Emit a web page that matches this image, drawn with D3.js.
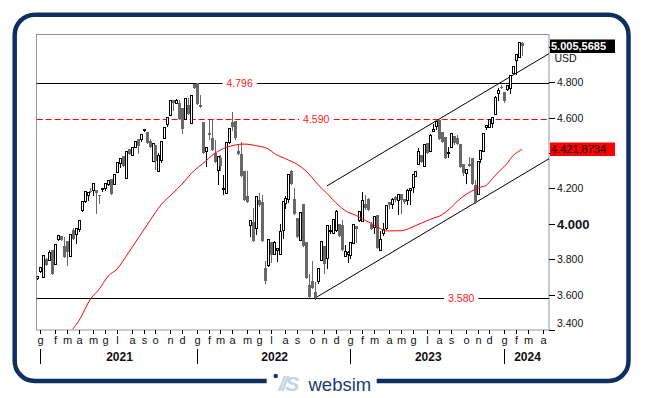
<!DOCTYPE html>
<html><head><meta charset="utf-8">
<script src="https://cdn.jsdelivr.net/npm/d3@7"></script>
<style>html,body{margin:0;padding:0;background:#fff;}svg{display:block;}</style>
</head><body>
<svg id="chart" width="645" height="398"></svg>
<script>
// Weekly candles, first week ends 25 Dec 2020, last week ends 16 Feb 2024
const open = [3695,3735,3700,3799,3798,3855,3774,3915,3932,3877,3901,3821,3968,3941,3971,4078,4128,4163,4188,4192,
4189,4163,4197,4202,4226,4255,4224,4291,4344,4385,4259,4422,4387,4432,4479,4479,4529,4520,4469,4358,
4443,4300,4361,4486,4567,4614,4702,4683,4682,4656,4592,4669,4568,4791,4797,4670,4577,4410,4516,4484,
4401,4305,4374,4201,4173,4461,4575,4583,4413,4392,4296,4155,3991,4009,3974,4132,4121,3750,3765,3900,
3831,3855,3831,3967,4119,4140,4297,4138,4031,3909,4110,3900,3655,3679,3612,3678,3798,3872,3807,3957,
3950,3964,3999,3991,3818,3829,3825,3893,3990,4020,4018,4111,4138,3997,3982,4048,3855,3951,3977,4124,
4110,4151,4137,4167,4138,4136,4193,4206,4273,4338,4389,4328,4455,4410,4522,4555,4589,4518,4490,4400,
4433,4497,4487,4454,4337,4289,4336,4373,4217,4167,4365,4412,4547,4550,4569,4622,4740,4774,4743,4764,
4766,4851,4928,4943,5022];
const high = [3703,3756,3825,3809,3853,3855,3887,3935,3932,3925,3901,3943,3974,3975,4020,4129,4185,4180,4201,4233,
4189,4163,4204,4230,4247,4255,4281,4352,4370,4385,4412,4422,4437,4468,4479,4509,4537,4520,4481,4455,
4443,4399,4471,4550,4605,4698,4702,4705,4702,4656,4712,4709,4726,4793,4797,4726,4577,4432,4589,4587,
4475,4385,4387,4278,4463,4543,4632,4583,4446,4463,4296,4300,4024,4088,4158,4177,4161,3790,3912,3900,
3902,3863,3999,4130,4155,4280,4305,4200,4031,4067,4110,3900,3719,3791,3669,3753,3901,3872,3993,3992,
4028,4080,3999,4019,3878,3849,3895,3999,3990,4071,4180,4164,4147,4012,4046,4048,3960,4002,4109,4124,
4146,4155,4169,4167,4138,4198,4205,4282,4299,4426,4389,4450,4455,4510,4565,4582,4589,4518,4490,4436,
4516,4497,4505,4454,4337,4309,4377,4373,4248,4358,4415,4514,4559,4595,4604,4720,4768,4783,4743,4784,
4840,4894,4959,5027,5030];
const low = [3687,3727,3700,3768,3798,3714,3774,3909,3907,3811,3768,3821,3913,3889,3959,4073,4125,4135,4181,4165,
4063,4116,4188,4193,4220,4166,4224,4291,4320,4327,4259,4395,4387,4432,4400,4470,4523,4459,4433,4354,
4308,4300,4351,4486,4551,4614,4646,4683,4595,4513,4592,4621,4568,4766,4677,4659,4398,4327,4478,4419,
4349,4226,4306,4171,4173,4456,4530,4481,4393,4272,4132,4123,3930,3901,3941,4101,3901,3667,3760,3785,
3831,3790,3831,3921,4091,4122,4228,4058,3924,3909,3873,3693,3586,3640,3577,3666,3798,3720,3749,3947,
3950,3958,3933,3852,3818,3783,3808,3893,3899,4016,4018,4082,4079,3970,3951,3862,3855,3937,3971,4091,
4092,4130,4056,4061,4119,4110,4115,4180,4268,4338,4348,4328,4399,4410,4522,4537,4478,4464,4370,4376,
4433,4451,4450,4320,4274,4229,4328,4224,4117,4167,4347,4412,4538,4550,4549,4622,4698,4770,4689,4757,
4739,4851,4846,4943,4953];
const close = [3703,3756,3825,3768,3841,3714,3887,3935,3907,3811,3842,3943,3913,3975,4020,4129,4185,4180,4181,4233,
4174,4156,4204,4230,4247,4166,4281,4352,4370,4327,4412,4395,4437,4468,4442,4509,4535,4459,4433,4455,
4357,4391,4471,4545,4605,4698,4683,4698,4595,4538,4712,4621,4726,4766,4677,4663,4398,4432,4501,4419,
4349,4385,4329,4204,4463,4543,4546,4488,4393,4272,4132,4123,4024,3901,4158,4109,3901,3675,3912,3825,
3899,3863,3962,4130,4145,4280,4228,4058,3924,4067,3873,3693,3586,3640,3583,3753,3901,3771,3993,3965,
4026,4072,3934,3852,3845,3840,3895,3999,3973,4071,4136,4090,4079,3970,4046,3862,3917,3971,4109,4105,
4138,4134,4169,4136,4124,4192,4205,4282,4299,4410,4348,4450,4399,4505,4536,4582,4478,4464,4370,4406,
4516,4457,4450,4320,4288,4309,4328,4224,4117,4358,4415,4514,4559,4595,4604,4719,4755,4770,4697,4784,
4840,4891,4959,5027,5005.5685];

// Moving average (week index, value)
const maWeek  = [12,14,18,21,24,27,31,38,42,46,49,53,56,60,64,67,70,74,78,81,84,88,91,95,98,101,105,108,109,113,116,118,123,125,128,130,134,136,140,142,144,147,150,152,154,157,159,161,163,164];
const maValue = [3405,3450,3575,3632,3705,3745,3840,4015,4110,4175,4225,4300,4340,4398,4432,4446,4451,4442,4425,4390,4368,4336,4298,4222,4173,4120,4067,4047,4037,4003,3974,3960,3961,3968,3990,4004,4032,4043,4092,4125,4153,4185,4207,4218,4255,4308,4340,4385,4410,4421.8734];

const levelValues = [4796, 4590, 3580];
const channelUpper = [[98, 4214], [173.2, 4962]];
const channelLower = [[94, 3580], [173.2, 4368]];
const yTickValues = [3400,3600,3800,4000,4200,4400,4600,4800,5000];
const yLabelValues = [3400,3600,3800,4000,4200,4600,4800];
const monthLetters = ["g","f","m","a","m","g","l","a","s","o","n","d"];
const currency = "USD";

const FONT = "'Liberation Sans', Arial, sans-serif";
const svg = d3.select("#chart");
const P = {l: 36.7, r: 549, t: 35, b: 330};

const weekEnds = d3.timeFriday.range(new Date(2020,11,25), new Date(2024,3,13));
const x = d3.scaleLinear().domain([-0.2, 173.2]).range([P.l, P.r]);
const y = d3.scaleLinear().domain([3400, 5067.4]).range([P.b, P.t]);

const loc = d3.formatLocale({decimal: ",", thousands: ".", grouping: [3], currency: ["", ""]});
const fInt = loc.format(",d");
const fDec = loc.format(",.4f");

svg.append("rect").attr("width", 645).attr("height", 398).attr("fill", "#fff");

// frame
const L = 14.7, T = 14.7, R = 628.5, B = 381, r = 20;
svg.append("path")
  .attr("d", `M376.7 ${B} H${R-r} A${r} ${r} 0 0 0 ${R} ${B-r} V${T+r} A${r} ${r} 0 0 0 ${R-r} ${T} H${L+r} A${r} ${r} 0 0 0 ${L} ${T+r} V${B-r} A${r} ${r} 0 0 0 ${L+r} ${B} H266.7`)
  .attr("fill", "none").attr("stroke", "#0f2f5f").attr("stroke-width", 4.5);

// logo
svg.append("circle").attr("cx", 275.7).attr("cy", 376).attr("r", 2.3).attr("fill", "#1c3c6e");
svg.append("text").attr("x", 278.5).attr("y", 391).attr("font-family", FONT).attr("font-size", 21)
  .attr("font-weight", "bold").attr("font-style", "italic").attr("letter-spacing", -2.5)
  .attr("fill", "#c8d3e1").text("//S");
svg.append("text").attr("x", 308.5).attr("y", 391).attr("font-family", FONT).attr("font-size", 18.5)
  .attr("fill", "#1c3c6e").text("websim");

// clip
svg.append("clipPath").attr("id", "plotclip").append("rect")
  .attr("x", P.l).attr("y", P.t).attr("width", P.r - P.l).attr("height", P.b - P.t);

// plot border
svg.append("rect").attr("x", 36.5).attr("y", 34.5).attr("width", 512.5).attr("height", 295.5)
  .attr("fill", "none").attr("stroke", "#9393a3");

// horizontal levels
const levelStyle = [
  {stroke: "#000", dash: null, labelAt: 68.5},
  {stroke: "#ff0000", dash: "6,3", labelAt: 94.4},
  {stroke: "#000", dash: null, labelAt: 143.5}
];
levelValues.forEach((v, k) => {
  const yy = Math.round(y(v)) + 0.5;
  svg.append("line").attr("x1", P.l).attr("x2", P.r).attr("y1", yy).attr("y2", yy)
    .attr("stroke", levelStyle[k].stroke).attr("stroke-dasharray", levelStyle[k].dash);
  const t = svg.append("text").attr("x", x(levelStyle[k].labelAt)).attr("y", yy).attr("dy", "0.36em")
    .attr("text-anchor", "middle").attr("font-family", FONT).attr("font-size", 10.5)
    .attr("fill", "#ff1a1a").text(fInt(v));
  const w = t.node().getComputedTextLength();
  svg.insert("rect", () => t.node()).attr("x", x(levelStyle[k].labelAt) - w/2 - 4).attr("y", yy - 4)
    .attr("width", w + 8).attr("height", 8).attr("fill", "#fff");
});

// channel lines
const gc = svg.append("g").attr("clip-path", "url(#plotclip)");
[channelUpper, channelLower].forEach(c => {
  gc.append("line").attr("x1", x(c[0][0])).attr("y1", y(c[0][1])).attr("x2", x(c[1][0])).attr("y2", y(c[1][1]))
    .attr("stroke", "#000").attr("stroke-width", 1);
});

// candles
const candles = close.map((c, i) => ({i, o: open[i], h: high[i], l: low[i], c}));
const gk = svg.append("g").attr("clip-path", "url(#plotclip)").attr("shape-rendering", "crispEdges");
candles.forEach(d => {
  const cx = Math.round(x(d.i));
  const up = d.c >= d.o;
  const col = up ? "#000" : "#686868";
  gk.append("line").attr("x1", cx + 0.5).attr("x2", cx + 0.5)
    .attr("y1", Math.round(y(d.h))).attr("y2", Math.round(y(d.l)) + 1).attr("stroke", col);
  const top = Math.round(y(Math.max(d.o, d.c))), bot = Math.round(y(Math.min(d.o, d.c)));
  if (up) {
    gk.append("rect").attr("x", cx - 0.5).attr("y", top + 0.5).attr("width", 2).attr("height", Math.max(bot - top, 1))
      .attr("fill", "#fff").attr("stroke", "#000");
  } else {
    gk.append("rect").attr("x", cx - 1).attr("y", top).attr("width", 3).attr("height", Math.max(bot - top, 1))
      .attr("fill", "#686868");
  }
});

// moving average
const maPts = maWeek.map((w, k) => [w, maValue[k]]);
svg.append("path").attr("clip-path", "url(#plotclip)")
  .attr("d", d3.line().x(d => x(d[0])).y(d => y(d[1])).curve(d3.curveMonotoneX)(maPts))
  .attr("fill", "none").attr("stroke", "#ff0000").attr("stroke-width", 1);

// y axis (right)
const gy = svg.append("g");
yTickValues.forEach(v => {
  const yy = Math.round(y(v)) + 0.5;
  gy.append("line").attr("x1", P.r).attr("x2", P.r + 6).attr("y1", yy).attr("y2", yy)
    .attr("stroke", "#000").attr("shape-rendering", "crispEdges");
});
yLabelValues.forEach(v => {
  const yy = Math.round(y(v)) + 0.5;
  const big = v === 4000;
  gy.append("text").attr("x", P.r + 8).attr("y", v === 3400 ? yy - 7 : yy).attr("dy", "0.36em")
    .attr("font-family", FONT).attr("font-size", big ? 13 : 10.5).attr("font-weight", big ? "bold" : "normal")
    .attr("fill", "#111").text(fInt(v));
});

// x axis
const gx = svg.append("g");
const monthTicks = [];
weekEnds.forEach((d, i) => { if (d.getDate() <= 7 && x(i) <= P.r) monthTicks.push({i, m: d.getMonth(), yr: d.getFullYear()}); });
monthTicks.forEach(t => {
  const xx = Math.round(x(t.i)) + 0.5;
  gx.append("line").attr("x1", xx).attr("x2", xx).attr("y1", P.b).attr("y2", P.b + 4)
    .attr("stroke", "#000").attr("shape-rendering", "crispEdges");
  gx.append("text").attr("x", xx).attr("y", 344).attr("text-anchor", "middle")
    .attr("font-family", FONT).attr("font-size", 11).attr("fill", "#111").text(monthLetters[t.m]);
});
const janTicks = monthTicks.filter(t => t.m === 0);
janTicks.forEach((t, k) => {
  const xx = Math.round(x(t.i)) + 0.5;
  gx.append("line").attr("x1", xx).attr("x2", xx).attr("y1", 349).attr("y2", 364)
    .attr("stroke", "#000").attr("shape-rendering", "crispEdges");
  const xEnd = k < janTicks.length - 1 ? x(janTicks[k + 1].i) : P.r;
  gx.append("text").attr("x", (x(t.i) + xEnd) / 2 + 1).attr("y", 361).attr("text-anchor", "middle")
    .attr("font-family", FONT).attr("font-size", 12).attr("font-weight", "bold").attr("fill", "#111").text(t.yr);
});

// value boxes
const lastClose = close[close.length - 1];
const lastMA = maValue[maValue.length - 1];
svg.append("rect").attr("x", 550).attr("y", Math.round(y(lastClose)) - 6.5).attr("width", 65).attr("height", 13.5).attr("fill", "#000");
svg.append("text").attr("x", 551).attr("y", y(lastClose)).attr("dy", "0.36em").attr("font-family", FONT)
  .attr("font-size", 11).attr("font-weight", "bold").attr("fill", "#fff").text(fDec(lastClose));
svg.append("text").attr("x", 554.5).attr("y", y(lastClose) + 12.5).attr("dy", "0.36em").attr("font-family", FONT)
  .attr("font-size", 10.5).attr("fill", "#111").text(currency);
svg.append("rect").attr("x", 550).attr("y", Math.round(y(lastMA)) - 6.5).attr("width", 65).attr("height", 13.5).attr("fill", "#ff0000");
svg.append("text").attr("x", 551).attr("y", y(lastMA)).attr("dy", "0.36em").attr("font-family", FONT)
  .attr("font-size", 11).attr("fill", "#000").text(fDec(lastMA));
</script>
</body></html>
